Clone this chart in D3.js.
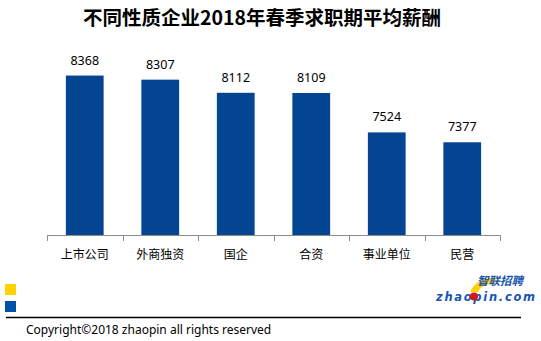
<!DOCTYPE html>
<html><head><meta charset="utf-8">
<script src="https://cdn.jsdelivr.net/npm/d3@7/dist/d3.min.js"></script>
<style>body{margin:0;background:#fff}svg{display:block}</style>
</head><body>
<script>
const categories = ["上市公司","外商独资","国企","合资","事业单位","民营"];
const values = [8368, 8307, 8112, 8109, 7524, 7377];
const title = "不同性质企业2018年春季求职期平均薪酬";

const W = 541, H = 341;
const svg = d3.select("body").append("svg").attr("width", W).attr("height", H);
const cjk = "'Noto Sans CJK SC','Noto Sans',sans-serif";

svg.append("text").attr("x", 262).attr("y", 25).attr("text-anchor","middle")
  .attr("font-family", cjk).attr("font-weight","bold").attr("font-size", 19.5)
  .attr("fill","#000").text(title);

const x = d3.scaleBand().domain(categories).range([47, 500]).paddingInner(0.5).paddingOuter(0.25);
const y = d3.scaleLinear().domain([6000, 9000]).range([235, 33]);

svg.selectAll("rect.bar").data(values).join("rect").attr("class","bar")
  .attr("x", (d,i) => x(categories[i])).attr("width", x.bandwidth())
  .attr("y", d => y(d)).attr("height", d => 235 - y(d)).attr("fill", "#044591");

svg.selectAll("text.val").data(values).join("text").attr("class","val")
  .attr("x", (d,i) => x(categories[i]) + x.bandwidth()/2).attr("y", d => y(d) - 11)
  .attr("text-anchor","middle").attr("font-family", "'Noto Sans',sans-serif").attr("font-size", 12.5)
  .attr("fill","#000").text(d => d);

// axis with ticks at band boundaries
const bounds = d3.range(categories.length + 1).map(i => 47 + i * (453 / categories.length));
const ax = svg.append("g");
ax.append("line").attr("x1", 47).attr("x2", 500).attr("y1", 235.5).attr("y2", 235.5)
  .attr("stroke", "#8c8c8c").attr("stroke-width", 1);
ax.selectAll("line.tk").data(bounds).join("line").attr("class","tk")
  .attr("x1", d => Math.round(d) + 0.5).attr("x2", d => Math.round(d) + 0.5)
  .attr("y1", 235).attr("y2", 241).attr("stroke", "#8c8c8c");
svg.selectAll("text.cat").data(categories).join("text").attr("class","cat")
  .attr("x", d => x(d) + x.bandwidth()/2).attr("y", 259).attr("text-anchor","middle")
  .attr("font-family", cjk).attr("font-size", 12).attr("fill","#000").text(d => d);

// legend squares
svg.append("rect").attr("x",5).attr("y",284).attr("width",11).attr("height",11).attr("fill","#FFD200");
svg.append("rect").attr("x",5).attr("y",301).attr("width",11).attr("height",11).attr("fill","#0050A6");

// footer line and copyright
svg.append("line").attr("x1",6).attr("x2",521).attr("y1",317.5).attr("y2",317.5).attr("stroke","#000").attr("stroke-width",1.3);
svg.append("text").attr("x",26).attr("y",334).attr("font-family","'Noto Sans',sans-serif").attr("font-size",12)
  .attr("fill","#000").text("Copyright©2018 zhaopin all rights reserved");

// logo
const lg = svg.append("g");
lg.append("path").attr("d","M470,292 Q478,276 496,278 L494,284 Q482,283 478,292 Z").attr("fill","#FFD200");
lg.append("text").attr("x",477).attr("y",285).attr("font-family",cjk).attr("font-weight","bold")
  .attr("font-style","italic").attr("font-size",11.5).attr("fill","#1a56b0").text("智联招聘");
lg.append("text").attr("x",436).attr("y",301).attr("font-family","'DejaVu Sans',sans-serif").attr("font-weight","bold")
  .attr("font-style","italic").attr("font-size",11.5).attr("fill","#1a56b0").attr("textLength",99).text("zhaopin.com");
lg.append("circle").attr("cx",474).attr("cy",296.5).attr("r",4).attr("fill","#d0161b");
</script>
</body></html>
